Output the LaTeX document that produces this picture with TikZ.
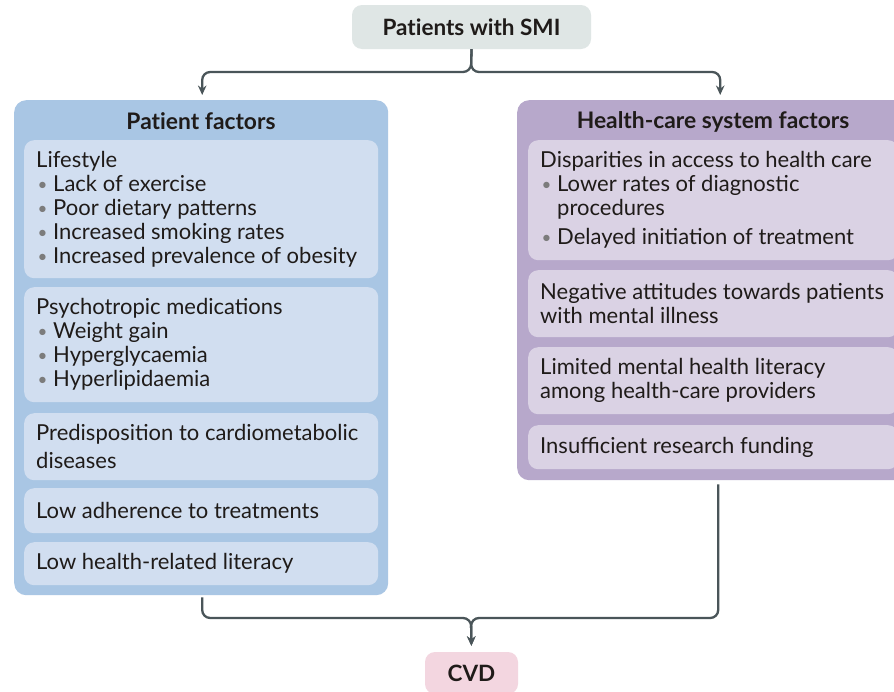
\documentclass[tikz,border=0pt]{standalone}
\usepackage{fontspec}
\setmainfont{Lato}
\usetikzlibrary{arrows.meta}

\definecolor{inkdark}{HTML}{1F1B19}
\definecolor{linkgray}{HTML}{4A5559}
\definecolor{dotgray}{HTML}{7C7C7C}
\definecolor{topfill}{HTML}{DFE6E5}
\definecolor{cvdfill}{HTML}{F3D6E0}
\definecolor{pfpanel}{HTML}{A9C6E4}
\definecolor{pfcard}{HTML}{D1DEF0}
\definecolor{hcpanel}{HTML}{B7A8CB}
\definecolor{hccard}{HTML}{DAD2E4}

% small grey list bullet followed by the item text
\newcommand{\bulletmark}{\makebox[17pt][l]{\hspace{1.5pt}\raisebox{1.4pt}{\fontsize{17}{17}\selectfont\textcolor{dotgray}{\textbullet}}}}

\tikzset{
  panelbox/.style={anchor=north west, rounded corners=12pt, inner sep=0pt, draw=none},
  cardbox/.style={anchor=north west, rounded corners=10pt, inner sep=0pt, draw=none},
  cardtext/.style={anchor=west, align=left, inner sep=0pt, text=inkdark},
  headtext/.style={inner sep=0pt, text=inkdark,
    font=\fontsize{22.8}{26}\selectfont\bfseries\addfontfeatures{Ligatures=NoCommon}},
  endbox/.style={rounded corners=10pt, inner sep=0pt, text=inkdark,
    font=\fontsize{22.5}{26}\selectfont\bfseries\addfontfeatures{Ligatures=NoCommon}},
  conn/.style={draw=linkgray, line width=2.3pt, rounded corners=8pt,
    -{Stealth[length=9.5pt,width=8.5pt]}},
}

\begin{document}
\begin{tikzpicture}[x=1pt,y=-1pt,font=\fontsize{22}{24}\selectfont]
\clip (0,0) rectangle (894,691);
\fill[white] (0,0) rectangle (894,691);

% source and outcome
\node[endbox, fill=topfill, minimum width=239pt, minimum height=44pt] (smi) at (471.5,27) {Patients with SMI};
\node[endbox, fill=cvdfill, minimum width=93pt, minimum height=42pt] (cvd) at (471.5,673) {CVD};

% patient factors panel
\node[panelbox, fill=pfpanel, minimum width=374pt, minimum height=495pt] (pf) at (14,100) {};
\node[headtext] (pfh) at (201,121) {Patient factors};

\node[cardbox, fill=pfcard, minimum width=354pt, minimum height=138pt] (life) at (24,140) {};
\node[cardtext] (lifet) at ([xshift=12pt]life.west) {Lifestyle\\
\bulletmark Lack of exercise\\
\bulletmark Poor dietary patterns\\
\bulletmark Increased smoking rates\\
\bulletmark Increased prevalence of obesity};

\node[cardbox, fill=pfcard, minimum width=354pt, minimum height=115pt] (psy) at (24,287) {};
\node[cardtext] (psyt) at ([xshift=12pt]psy.west) {Psychotropic medications\\
\bulletmark Weight gain\\
\bulletmark Hyperglycaemia\\
\bulletmark Hyperlipidaemia};

\node[cardbox, fill=pfcard, minimum width=354pt, minimum height=67pt] (pre) at (24,413) {};
\node[cardtext] (pret) at ([xshift=12pt]pre.west) {Predisposition to cardiometabolic\\[4pt]
diseases};

\node[cardbox, fill=pfcard, minimum width=354pt, minimum height=45pt] (adh) at (24,488) {};
\node[cardtext] (adht) at ([xshift=12pt]adh.west) {Low adherence to treatments};

\node[cardbox, fill=pfcard, minimum width=354pt, minimum height=43pt] (lit) at (24,542) {};
\node[cardtext] (litt) at ([xshift=12pt]lit.west) {Low health-related literacy};

% health-care system factors panel
\node[panelbox, fill=hcpanel, minimum width=392pt, minimum height=380pt] (hc) at (517,100) {};
\node[headtext] (hch) at (713,122) {Health-care system factors};

\node[cardbox, fill=hccard, minimum width=370pt, minimum height=120pt] (acc) at (528,140) {};
\node[cardtext] (acct) at ([xshift=12pt]acc.west) {Disparities in access to health care\\
\bulletmark Lower rates of diagnostic\\
\makebox[17pt]{}procedures\\[5pt]
\bulletmark Delayed initiation of treatment};

\node[cardbox, fill=hccard, minimum width=370pt, minimum height=67pt] (neg) at (528,270) {};
\node[cardtext] (negt) at ([xshift=12pt]neg.west) {Negative attitudes towards patients\\
with mental illness};

\node[cardbox, fill=hccard, minimum width=370pt, minimum height=67pt] (mhl) at (528,347) {};
\node[cardtext] (mhlt) at ([xshift=12pt]mhl.west) {Limited mental health literacy\\
among health-care providers};

\node[cardbox, fill=hccard, minimum width=370pt, minimum height=44pt] (fund) at (528,425) {};
\node[cardtext] (fundt) at ([xshift=12pt]fund.west) {Insufficient research funding};

% connectors
\coordinate (split) at (471,72);
\coordinate (merge) at (471,618);
\draw[conn, shorten >=5pt] (smi.south) -- (split) -| ([xshift=1pt]pf.north);
\draw[conn, shorten >=5pt] (smi.south) -- (split) -| ([xshift=7pt]hc.north);
\draw[conn, shorten <=2pt, shorten >=6pt] ([xshift=1pt]pf.south) |- (merge) -- (cvd.north);
\draw[conn, shorten <=4pt, shorten >=6pt] ([xshift=5pt]hc.south) |- (merge) -- (cvd.north);
\end{tikzpicture}
\end{document}
